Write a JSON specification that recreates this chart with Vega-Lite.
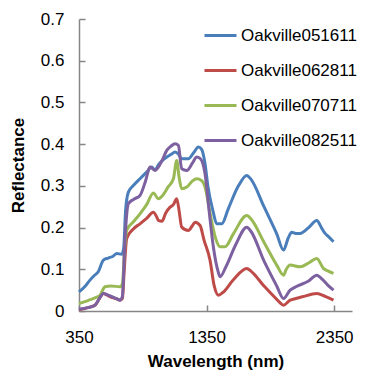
{
  "$schema": "https://vega.github.io/schema/vega-lite/v6.json",
  "autosize": {"type": "none"},
  "width": 273,
  "height": 292,
  "padding": {"left": 79, "top": 19, "right": 25, "bottom": 61},
  "background": "white",
  "config": {
    "font": "Liberation Sans",
    "view": {"stroke": null},
    "axis": {
      "grid": false,
      "domainColor": "#868686",
      "domainWidth": 1.5,
      "tickColor": "#868686",
      "tickWidth": 1.5,
      "tickSize": -6,
      "labelColor": "#000000",
      "labelFont": "Liberation Sans",
      "labelFontSize": 17,
      "labelFlush": false,
      "titleFont": "Liberation Sans",
      "titleFontSize": 17,
      "titleFontWeight": "bold",
      "titleColor": "#000000"
    }
  },
  "data": {
    "values": [
      {"series": "Oakville051611", "wl": 350, "r": 0.046},
      {"series": "Oakville051611", "wl": 400, "r": 0.060},
      {"series": "Oakville051611", "wl": 436, "r": 0.074},
      {"series": "Oakville051611", "wl": 470, "r": 0.085},
      {"series": "Oakville051611", "wl": 501, "r": 0.094},
      {"series": "Oakville051611", "wl": 541, "r": 0.122},
      {"series": "Oakville051611", "wl": 580, "r": 0.127},
      {"series": "Oakville051611", "wl": 620, "r": 0.132},
      {"series": "Oakville051611", "wl": 646, "r": 0.138},
      {"series": "Oakville051611", "wl": 685, "r": 0.136},
      {"series": "Oakville051611", "wl": 700, "r": 0.150},
      {"series": "Oakville051611", "wl": 715, "r": 0.240},
      {"series": "Oakville051611", "wl": 737, "r": 0.285},
      {"series": "Oakville051611", "wl": 780, "r": 0.302},
      {"series": "Oakville051611", "wl": 828, "r": 0.317},
      {"series": "Oakville051611", "wl": 880, "r": 0.333},
      {"series": "Oakville051611", "wl": 920, "r": 0.345},
      {"series": "Oakville051611", "wl": 946, "r": 0.338},
      {"series": "Oakville051611", "wl": 972, "r": 0.350},
      {"series": "Oakville051611", "wl": 1000, "r": 0.360},
      {"series": "Oakville051611", "wl": 1038, "r": 0.369},
      {"series": "Oakville051611", "wl": 1070, "r": 0.375},
      {"series": "Oakville051611", "wl": 1103, "r": 0.381},
      {"series": "Oakville051611", "wl": 1130, "r": 0.376},
      {"series": "Oakville051611", "wl": 1155, "r": 0.365},
      {"series": "Oakville051611", "wl": 1207, "r": 0.365},
      {"series": "Oakville051611", "wl": 1250, "r": 0.380},
      {"series": "Oakville051611", "wl": 1286, "r": 0.393},
      {"series": "Oakville051611", "wl": 1310, "r": 0.388},
      {"series": "Oakville051611", "wl": 1338, "r": 0.353},
      {"series": "Oakville051611", "wl": 1360, "r": 0.300},
      {"series": "Oakville051611", "wl": 1400, "r": 0.240},
      {"series": "Oakville051611", "wl": 1430, "r": 0.209},
      {"series": "Oakville051611", "wl": 1469, "r": 0.209},
      {"series": "Oakville051611", "wl": 1520, "r": 0.245},
      {"series": "Oakville051611", "wl": 1600, "r": 0.300},
      {"series": "Oakville051611", "wl": 1665, "r": 0.325},
      {"series": "Oakville051611", "wl": 1700, "r": 0.315},
      {"series": "Oakville051611", "wl": 1800, "r": 0.250},
      {"series": "Oakville051611", "wl": 1900, "r": 0.185},
      {"series": "Oakville051611", "wl": 1953, "r": 0.146},
      {"series": "Oakville051611", "wl": 1990, "r": 0.175},
      {"series": "Oakville051611", "wl": 2018, "r": 0.189},
      {"series": "Oakville051611", "wl": 2050, "r": 0.186},
      {"series": "Oakville051611", "wl": 2083, "r": 0.186},
      {"series": "Oakville051611", "wl": 2150, "r": 0.200},
      {"series": "Oakville051611", "wl": 2214, "r": 0.217},
      {"series": "Oakville051611", "wl": 2250, "r": 0.200},
      {"series": "Oakville051611", "wl": 2279, "r": 0.186},
      {"series": "Oakville051611", "wl": 2300, "r": 0.180},
      {"series": "Oakville051611", "wl": 2345, "r": 0.166},

      {"series": "Oakville062811", "wl": 350, "r": 0.003},
      {"series": "Oakville062811", "wl": 420, "r": 0.008},
      {"series": "Oakville062811", "wl": 480, "r": 0.015},
      {"series": "Oakville062811", "wl": 510, "r": 0.030},
      {"series": "Oakville062811", "wl": 541, "r": 0.042},
      {"series": "Oakville062811", "wl": 594, "r": 0.034},
      {"series": "Oakville062811", "wl": 640, "r": 0.030},
      {"series": "Oakville062811", "wl": 672, "r": 0.026},
      {"series": "Oakville062811", "wl": 690, "r": 0.030},
      {"series": "Oakville062811", "wl": 705, "r": 0.100},
      {"series": "Oakville062811", "wl": 724, "r": 0.174},
      {"series": "Oakville062811", "wl": 770, "r": 0.195},
      {"series": "Oakville062811", "wl": 828, "r": 0.209},
      {"series": "Oakville062811", "wl": 880, "r": 0.222},
      {"series": "Oakville062811", "wl": 933, "r": 0.237},
      {"series": "Oakville062811", "wl": 960, "r": 0.225},
      {"series": "Oakville062811", "wl": 972, "r": 0.217},
      {"series": "Oakville062811", "wl": 1000, "r": 0.215},
      {"series": "Oakville062811", "wl": 1030, "r": 0.235},
      {"series": "Oakville062811", "wl": 1064, "r": 0.249},
      {"series": "Oakville062811", "wl": 1090, "r": 0.255},
      {"series": "Oakville062811", "wl": 1116, "r": 0.269},
      {"series": "Oakville062811", "wl": 1135, "r": 0.240},
      {"series": "Oakville062811", "wl": 1155, "r": 0.201},
      {"series": "Oakville062811", "wl": 1207, "r": 0.193},
      {"series": "Oakville062811", "wl": 1240, "r": 0.205},
      {"series": "Oakville062811", "wl": 1260, "r": 0.213},
      {"series": "Oakville062811", "wl": 1299, "r": 0.205},
      {"series": "Oakville062811", "wl": 1330, "r": 0.170},
      {"series": "Oakville062811", "wl": 1377, "r": 0.122},
      {"series": "Oakville062811", "wl": 1410, "r": 0.060},
      {"series": "Oakville062811", "wl": 1443, "r": 0.038},
      {"series": "Oakville062811", "wl": 1480, "r": 0.045},
      {"series": "Oakville062811", "wl": 1560, "r": 0.075},
      {"series": "Oakville062811", "wl": 1665, "r": 0.102},
      {"series": "Oakville062811", "wl": 1700, "r": 0.095},
      {"series": "Oakville062811", "wl": 1800, "r": 0.060},
      {"series": "Oakville062811", "wl": 1900, "r": 0.028},
      {"series": "Oakville062811", "wl": 1953, "r": 0.014},
      {"series": "Oakville062811", "wl": 2005, "r": 0.026},
      {"series": "Oakville062811", "wl": 2050, "r": 0.030},
      {"series": "Oakville062811", "wl": 2100, "r": 0.034},
      {"series": "Oakville062811", "wl": 2214, "r": 0.042},
      {"series": "Oakville062811", "wl": 2280, "r": 0.035},
      {"series": "Oakville062811", "wl": 2345, "r": 0.026},

      {"series": "Oakville070711", "wl": 350, "r": 0.018},
      {"series": "Oakville070711", "wl": 420, "r": 0.025},
      {"series": "Oakville070711", "wl": 480, "r": 0.032},
      {"series": "Oakville070711", "wl": 515, "r": 0.038},
      {"series": "Oakville070711", "wl": 554, "r": 0.058},
      {"series": "Oakville070711", "wl": 600, "r": 0.060},
      {"series": "Oakville070711", "wl": 672, "r": 0.058},
      {"series": "Oakville070711", "wl": 690, "r": 0.065},
      {"series": "Oakville070711", "wl": 708, "r": 0.150},
      {"series": "Oakville070711", "wl": 724, "r": 0.194},
      {"series": "Oakville070711", "wl": 780, "r": 0.215},
      {"series": "Oakville070711", "wl": 828, "r": 0.233},
      {"series": "Oakville070711", "wl": 880, "r": 0.255},
      {"series": "Oakville070711", "wl": 933, "r": 0.283},
      {"series": "Oakville070711", "wl": 972, "r": 0.269},
      {"series": "Oakville070711", "wl": 1000, "r": 0.275},
      {"series": "Oakville070711", "wl": 1050, "r": 0.298},
      {"series": "Oakville070711", "wl": 1090, "r": 0.317},
      {"series": "Oakville070711", "wl": 1116, "r": 0.361},
      {"series": "Oakville070711", "wl": 1135, "r": 0.320},
      {"series": "Oakville070711", "wl": 1155, "r": 0.293},
      {"series": "Oakville070711", "wl": 1195, "r": 0.297},
      {"series": "Oakville070711", "wl": 1240, "r": 0.312},
      {"series": "Oakville070711", "wl": 1273, "r": 0.317},
      {"series": "Oakville070711", "wl": 1310, "r": 0.313},
      {"series": "Oakville070711", "wl": 1338, "r": 0.297},
      {"series": "Oakville070711", "wl": 1380, "r": 0.230},
      {"series": "Oakville070711", "wl": 1420, "r": 0.175},
      {"series": "Oakville070711", "wl": 1456, "r": 0.154},
      {"series": "Oakville070711", "wl": 1495, "r": 0.154},
      {"series": "Oakville070711", "wl": 1560, "r": 0.185},
      {"series": "Oakville070711", "wl": 1665, "r": 0.229},
      {"series": "Oakville070711", "wl": 1700, "r": 0.220},
      {"series": "Oakville070711", "wl": 1800, "r": 0.165},
      {"series": "Oakville070711", "wl": 1900, "r": 0.110},
      {"series": "Oakville070711", "wl": 1953, "r": 0.086},
      {"series": "Oakville070711", "wl": 1975, "r": 0.100},
      {"series": "Oakville070711", "wl": 2005, "r": 0.110},
      {"series": "Oakville070711", "wl": 2083, "r": 0.106},
      {"series": "Oakville070711", "wl": 2150, "r": 0.115},
      {"series": "Oakville070711", "wl": 2214, "r": 0.126},
      {"series": "Oakville070711", "wl": 2266, "r": 0.102},
      {"series": "Oakville070711", "wl": 2300, "r": 0.096},
      {"series": "Oakville070711", "wl": 2345, "r": 0.090},

      {"series": "Oakville082511", "wl": 350, "r": 0.004},
      {"series": "Oakville082511", "wl": 420, "r": 0.008},
      {"series": "Oakville082511", "wl": 475, "r": 0.014},
      {"series": "Oakville082511", "wl": 510, "r": 0.030},
      {"series": "Oakville082511", "wl": 541, "r": 0.042},
      {"series": "Oakville082511", "wl": 594, "r": 0.036},
      {"series": "Oakville082511", "wl": 640, "r": 0.030},
      {"series": "Oakville082511", "wl": 672, "r": 0.026},
      {"series": "Oakville082511", "wl": 690, "r": 0.035},
      {"series": "Oakville082511", "wl": 710, "r": 0.170},
      {"series": "Oakville082511", "wl": 737, "r": 0.257},
      {"series": "Oakville082511", "wl": 780, "r": 0.268},
      {"series": "Oakville082511", "wl": 828, "r": 0.277},
      {"series": "Oakville082511", "wl": 870, "r": 0.310},
      {"series": "Oakville082511", "wl": 907, "r": 0.345},
      {"series": "Oakville082511", "wl": 946, "r": 0.337},
      {"series": "Oakville082511", "wl": 972, "r": 0.345},
      {"series": "Oakville082511", "wl": 1000, "r": 0.360},
      {"series": "Oakville082511", "wl": 1038, "r": 0.385},
      {"series": "Oakville082511", "wl": 1070, "r": 0.395},
      {"series": "Oakville082511", "wl": 1103, "r": 0.401},
      {"series": "Oakville082511", "wl": 1129, "r": 0.397},
      {"series": "Oakville082511", "wl": 1155, "r": 0.341},
      {"series": "Oakville082511", "wl": 1195, "r": 0.337},
      {"series": "Oakville082511", "wl": 1240, "r": 0.355},
      {"series": "Oakville082511", "wl": 1273, "r": 0.369},
      {"series": "Oakville082511", "wl": 1299, "r": 0.366},
      {"series": "Oakville082511", "wl": 1338, "r": 0.329},
      {"series": "Oakville082511", "wl": 1370, "r": 0.240},
      {"series": "Oakville082511", "wl": 1403, "r": 0.154},
      {"series": "Oakville082511", "wl": 1440, "r": 0.095},
      {"series": "Oakville082511", "wl": 1456, "r": 0.082},
      {"series": "Oakville082511", "wl": 1500, "r": 0.105},
      {"series": "Oakville082511", "wl": 1580, "r": 0.160},
      {"series": "Oakville082511", "wl": 1665, "r": 0.201},
      {"series": "Oakville082511", "wl": 1700, "r": 0.190},
      {"series": "Oakville082511", "wl": 1800, "r": 0.120},
      {"series": "Oakville082511", "wl": 1900, "r": 0.060},
      {"series": "Oakville082511", "wl": 1953, "r": 0.030},
      {"series": "Oakville082511", "wl": 2005, "r": 0.050},
      {"series": "Oakville082511", "wl": 2050, "r": 0.058},
      {"series": "Oakville082511", "wl": 2150, "r": 0.072},
      {"series": "Oakville082511", "wl": 2214, "r": 0.086},
      {"series": "Oakville082511", "wl": 2260, "r": 0.075},
      {"series": "Oakville082511", "wl": 2300, "r": 0.062},
      {"series": "Oakville082511", "wl": 2345, "r": 0.050}
    ]
  },
  "mark": {"type": "line", "strokeWidth": 3, "interpolate": "monotone"},
  "encoding": {
    "x": {
      "field": "wl",
      "type": "quantitative",
      "scale": {"domain": [350, 2490], "nice": false, "zero": false},
      "axis": {"values": [350, 1350, 2350], "format": "d", "title": "Wavelength (nm)", "labelPadding": 24, "titlePadding": 8}
    },
    "y": {
      "field": "r",
      "type": "quantitative",
      "scale": {"domain": [0, 0.7], "nice": false},
      "axis": {"values": [0, 0.1, 0.2, 0.3, 0.4, 0.5, 0.6, 0.7], "format": ".1~f", "title": "Reflectance", "labelPadding": 21, "titlePadding": 13}
    },
    "color": {
      "field": "series",
      "type": "nominal",
      "scale": {
        "domain": ["Oakville051611", "Oakville062811", "Oakville070711", "Oakville082511"],
        "range": ["#4A7EBB", "#BE4B48", "#98B954", "#7D60A0"]
      },
      "legend": {
        "title": null,
        "orient": "none",
        "legendX": 124,
        "legendY": -1,
        "symbolType": "stroke",
        "symbolSize": 1024,
        "symbolStrokeWidth": 3,
        "labelFont": "Liberation Sans",
        "labelFontSize": 17,
        "labelColor": "#000000",
        "labelOffset": 3,
        "rowPadding": 9
      }
    }
  }
}
